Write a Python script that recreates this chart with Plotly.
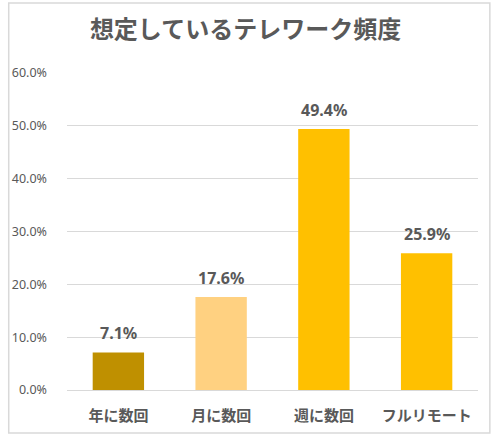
import plotly.graph_objects as go

# 想定しているテレワーク頻度
categories = ['年に数回', '月に数回', '週に数回', 'フルリモート']
values = [0.071, 0.176, 0.494, 0.259]
bar_colors = ['#BF9000', '#FFD181', '#FFC000', '#FFC000']
y_ticks = [0, 0.1, 0.2, 0.3, 0.4, 0.5, 0.6]

FONT = 'Noto Sans, Noto Sans CJK JP, sans-serif'
GRAY = '#595959'
GRID = '#d9d9d9'

fig = go.Figure()

fig.add_trace(go.Bar(
    x=categories,
    y=values,
    marker=dict(color=bar_colors, line=dict(width=0)),
    hoverinfo='skip',
))

# データラベル（棒の上）
for cat, val in zip(categories, values):
    fig.add_annotation(
        x=cat, y=val,
        text=f"<b>{val * 100:.1f}%</b>",
        showarrow=False,
        yanchor='bottom',
        yshift=6,
        font=dict(family=FONT, size=16, color=GRAY),
    )

# 外枠
fig.add_shape(
    type='rect', xref='paper', yref='paper',
    x0=-0.1418, x1=1.0288, y0=-0.1356, y1=1.2208,
    line=dict(color=GRID, width=1.5),
    fillcolor='rgba(0,0,0,0)',
)

fig.update_layout(
    width=496,
    height=440,
    margin=dict(l=62, r=18, t=73, b=50),
    paper_bgcolor='white',
    plot_bgcolor='white',
    bargap=0.5,
    showlegend=False,
    font=dict(family=FONT, color=GRAY),
    title=dict(
        text='<b>想定しているテレワーク頻度</b>',
        x=0.495, xanchor='center',
        y=0.932, yanchor='middle',
        font=dict(family=FONT, size=24, color=GRAY),
    ),
)

fig.update_xaxes(
    tickvals=categories,
    ticktext=[f"<b>{c}</b>" for c in categories],
    tickfont=dict(family=FONT, size=15, color=GRAY),
    showline=False,
    ticks='',
    ticklabelstandoff=15,
)

fig.update_yaxes(
    range=[0, 0.6],
    tickvals=y_ticks,
    tickformat='.1%',
    tickfont=dict(family=FONT, size=12.5, color=GRAY),
    showgrid=True,
    gridcolor=GRID,
    gridwidth=1,
    zeroline=True,
    zerolinecolor=GRID,
    zerolinewidth=1,
    ticks='',
    ticklabelstandoff=19,
)

fig.write_html(
    "out.html",
    config={'displayModeBar': False},
    post_script="document.body.style.margin='0';",
)
